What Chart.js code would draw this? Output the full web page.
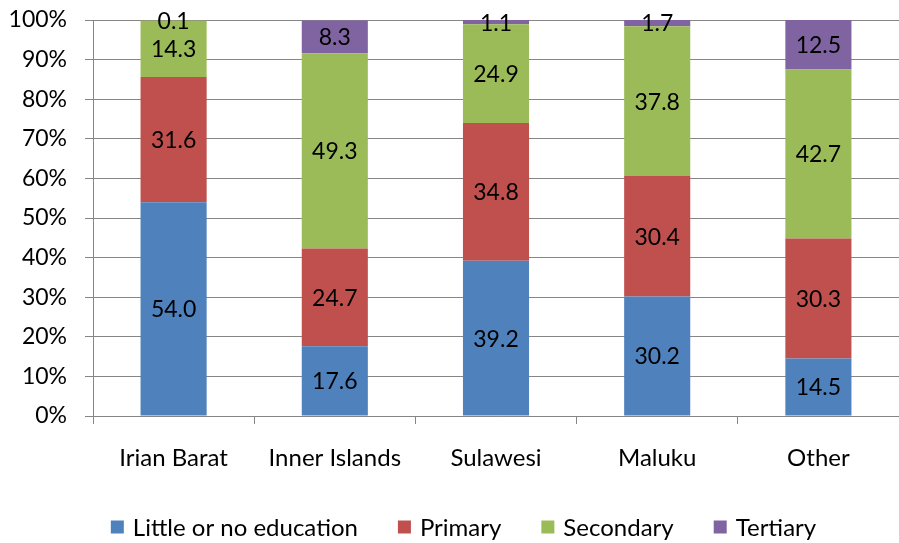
<!DOCTYPE html>
<html lang="en">
<head>
<meta charset="UTF-8">
<title>Education by region</title>
<script src="https://cdn.jsdelivr.net/npm/chart.js"></script>
<style>
  html, body { margin: 0; padding: 0; background: #fff; }
  #wrap { width: 899px; height: 543px; }
</style>
</head>
<body>
<div id="wrap"><canvas id="myChart" width="899" height="543"></canvas></div>
<script>
  // data
  const regions = ['Irian Barat', 'Inner Islands', 'Sulawesi', 'Maluku', 'Other'];
  const littleOrNone = [54.0, 17.6, 39.2, 30.2, 14.5];
  const primary = [31.6, 24.7, 34.8, 30.4, 30.3];
  const secondary = [14.3, 49.3, 24.9, 37.8, 42.7];
  const tertiary = [0.1, 8.3, 1.1, 1.7, 12.5];

  const FONT = 'Lato, "Open Sans", sans-serif';
  const axisGrey = '#868686';

  // labels centred on each segment
  const segLabels = {
    id: 'segLabels',
    afterDatasetsDraw(chart) {
      const ctx = chart.ctx;
      ctx.save();
      ctx.font = '23px ' + FONT;
      ctx.fillStyle = '#000';
      ctx.textAlign = 'center';
      ctx.textBaseline = 'middle';
      chart.data.datasets.forEach((ds, i) => {
        const meta = chart.getDatasetMeta(i);
        meta.data.forEach((bar, j) => {
          const p = bar.getCenterPoint();
          ctx.fillText(ds.data[j].toFixed(1), p.x, p.y + 1);
        });
      });
      ctx.restore();
    }
  };

  // bottom legend, Excel-like spacing
  const bottomLegend = {
    id: 'bottomLegend',
    afterDraw(chart) {
      const ctx = chart.ctx;
      const box = 13, gap = 9, spacing = 40;
      ctx.save();
      ctx.font = '24px ' + FONT;
      ctx.textBaseline = 'middle';
      ctx.textAlign = 'left';
      const items = chart.data.datasets.map(ds => ({ text: ds.label, color: ds.backgroundColor, w: ctx.measureText(ds.label).width }));
      const total = items.reduce((s, it) => s + box + gap + it.w, 0) + spacing * (items.length - 1);
      let x = chart.width / 2 + 14 - total / 2;
      const y = chart.height - 16;
      items.forEach(it => {
        ctx.fillStyle = it.color;
        ctx.fillRect(x, y - box / 2, box, box);
        ctx.fillStyle = '#000';
        ctx.fillText(it.text, x + box + gap, y + 1);
        x += box + gap + it.w + spacing;
      });
      ctx.restore();
    }
  };

  const ctx = document.getElementById('myChart').getContext('2d');
  const chart = new Chart(ctx, {
    type: 'bar',
    data: {
      labels: regions,
      datasets: [
        { label: 'Little or no education', data: littleOrNone, backgroundColor: '#4F81BD' },
        { label: 'Primary', data: primary, backgroundColor: '#C0504D' },
        { label: 'Secondary', data: secondary, backgroundColor: '#9BBB59' },
        { label: 'Tertiary', data: tertiary, backgroundColor: '#8064A2' }
      ]
    },
    options: {
      responsive: false,
      animation: false,
      layout: { padding: { top: 20, right: 0, left: 0, bottom: 0 } },
      datasets: { bar: { categoryPercentage: 1, barPercentage: 0.41, borderWidth: 0 } },
      plugins: {
        tooltip: { enabled: false },
        legend: { display: false }
      },
      scales: {
        x: {
          stacked: true,
          afterFit(scale) { scale.height = 127; },
          border: { color: axisGrey, width: 1 },
          grid: { drawOnChartArea: false, color: axisGrey, tickLength: 8, offset: true },
          ticks: { font: { family: FONT, size: 24 }, color: '#000', padding: 20 }
        },
        y: {
          stacked: true,
          min: 0,
          max: 100,
          afterFit(scale) {
            scale.width = 93;
            scale.paddingTop = 0;
            scale.paddingBottom = 0;
          },
          border: { color: axisGrey, width: 1 },
          grid: { color: axisGrey, tickLength: 8 },
          ticks: {
            stepSize: 10,
            font: { family: FONT, size: 23 },
            color: '#000',
            padding: 18,
            callback: v => v + '%'
          }
        }
      }
    },
    plugins: [segLabels, bottomLegend]
  });
</script>
</body>
</html>
